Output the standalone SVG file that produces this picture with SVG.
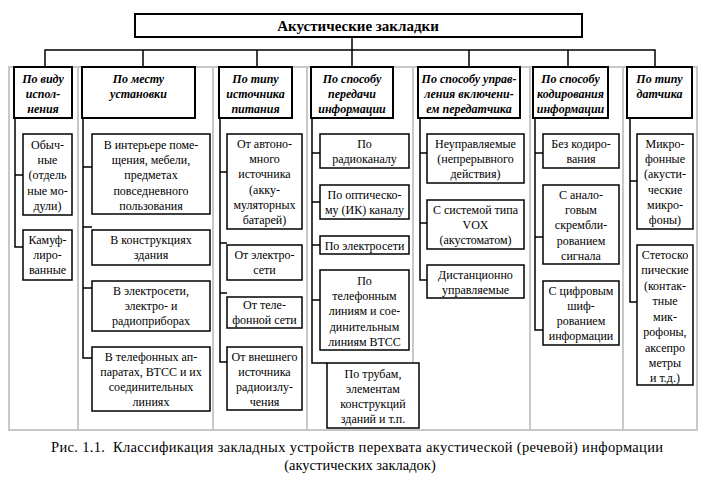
<svg xmlns="http://www.w3.org/2000/svg" width="709" height="483" viewBox="0 0 709 483">
<style>
.grid{fill:none;stroke:#c8c8c8;stroke-width:2}
.hdr{fill:#fff;stroke:#000;stroke-width:2}
.box{fill:#fff;stroke:#000;stroke-width:1.5}
.ln{fill:none;stroke:#000;stroke-width:1.5}
text{font-family:'Liberation Serif','Liberation Sans',Arial,sans-serif;fill:#000;text-anchor:middle}
.ht{font-size:12px;font-weight:bold;font-style:italic}
.bt{font-size:12px}
.tt{font-size:15px;font-weight:bold}
.cap{font-size:14.5px}
</style>
<rect width="709" height="483" fill="#fff"/>
<g id="grid">
<rect class="grid" x="9" y="67" width="688" height="363"/>
<line class="grid" x1="78" y1="67" x2="78" y2="430"/>
<line class="grid" x1="213" y1="67" x2="213" y2="430"/>
<line class="grid" x1="307" y1="67" x2="307" y2="430"/>
<line class="grid" x1="413" y1="67" x2="413" y2="430"/>
<line class="grid" x1="530" y1="67" x2="530" y2="430"/>
<line class="grid" x1="623" y1="67" x2="623" y2="430"/>
</g>
<g id="connectors">
<path class="ln" d="M352,37 V50 M45,67 V50 H655 V67 M143,50 V67 M257,50 V67 M352,50 V67 M469,50 V67 M568,50 V67"/>
<path class="ln" d="M15,118 V247 H23 M15,175 H23"/>
<path class="ln" d="M83,118 V358 H92 M83,167 H92 M83,227 H92 M83,288 H92"/>
<path class="ln" d="M220,118 V362 H227 M220,172 H227 M220,243 H227 M220,293 H227"/>
<path class="ln" d="M312,118 V363 H327 M312,153 H320 M312,202 H320 M312,245 H320 M312,300 H320"/>
<path class="ln" d="M420,118 V280 H427 M420,153 H427 M420,223 H427"/>
<path class="ln" d="M535,118 V330 H543 M535,153 H543 M535,237 H543"/>
<path class="ln" d="M630,118 V302 H637 M630,181 H637"/>
</g>
<g id="title">
<rect class="hdr" x="135" y="14" width="447" height="23"/>
<text class="tt" x="358" y="31">Акустические закладки</text>
</g>
<g id="h1"><rect class="hdr" x="14" y="67" width="58" height="51"/>
<text class="ht" x="43" y="83">По виду</text><text class="ht" x="43" y="98">испол-</text><text class="ht" x="43" y="113">нения</text></g>
<g id="h2"><rect class="hdr" x="82" y="67" width="113" height="51"/>
<text class="ht" x="138.5" y="83">По месту</text><text class="ht" x="138.5" y="98">установки</text></g>
<g id="h3"><rect class="hdr" x="219" y="67" width="73" height="51"/>
<text class="ht" x="255.5" y="83">По типу</text><text class="ht" x="255.5" y="98">источника</text><text class="ht" x="255.5" y="113">питания</text></g>
<g id="h4"><rect class="hdr" x="311" y="67" width="82" height="51"/>
<text class="ht" x="352" y="83">По способу</text><text class="ht" x="352" y="98">передачи</text><text class="ht" x="352" y="113">информации</text></g>
<g id="h5"><rect class="hdr" x="418" y="67" width="102" height="51"/>
<text class="ht" x="469" y="83">По способу управ-</text><text class="ht" x="469" y="98">ления включени-</text><text class="ht" x="469" y="113">ем передатчика</text></g>
<g id="h6"><rect class="hdr" x="533" y="67" width="75" height="51"/>
<text class="ht" x="570.5" y="83">По способу</text><text class="ht" x="570.5" y="98">кодирования</text><text class="ht" x="570.5" y="113">информации</text></g>
<g id="h7"><rect class="hdr" x="627" y="67" width="65" height="51"/>
<text class="ht" x="659.5" y="83">По типу</text><text class="ht" x="659.5" y="98">датчика</text></g>

<g id="c1b1"><rect class="box" x="23" y="134" width="49" height="81"/>
<text class="bt" x="47.5" y="149">Обыч-</text><text class="bt" x="47.5" y="164">ные</text><text class="bt" x="47.5" y="179">(отдель</text><text class="bt" x="47.5" y="195">ные мо-</text><text class="bt" x="47.5" y="210">дули)</text></g>
<g id="c1b2"><rect class="box" x="23" y="230" width="49" height="50"/>
<text class="bt" x="47.5" y="244">Камуф-</text><text class="bt" x="47.5" y="259">лиро-</text><text class="bt" x="47.5" y="274">ванные</text></g>

<g id="c2b1"><rect class="box" x="92" y="134" width="118" height="80"/>
<text class="bt" x="151" y="149">В интерьере поме-</text><text class="bt" x="151" y="164">щения, мебели,</text><text class="bt" x="151" y="179">предметах</text><text class="bt" x="151" y="195">повседневного</text><text class="bt" x="151" y="210">пользования</text></g>
<g id="c2b2"><rect class="box" x="92" y="230" width="118" height="35"/>
<text class="bt" x="151" y="244">В конструкциях</text><text class="bt" x="151" y="259">здания</text></g>
<g id="c2b3"><rect class="box" x="92" y="281" width="118" height="50"/>
<text class="bt" x="151" y="295">В электросети,</text><text class="bt" x="151" y="310">электро- и</text><text class="bt" x="151" y="325">радиоприборах</text></g>
<g id="c2b4"><rect class="box" x="92" y="347" width="118" height="64"/>
<text class="bt" x="151" y="361">В телефонных ап-</text><text class="bt" x="151" y="376">паратах, ВТСС и их</text><text class="bt" x="151" y="391">соединительных</text><text class="bt" x="151" y="406">линиях</text></g>

<g id="c3b1"><rect class="box" x="227" y="134" width="75" height="95"/>
<text class="bt" x="264.5" y="148">От автоно-</text><text class="bt" x="264.5" y="163">много</text><text class="bt" x="264.5" y="178">источника</text><text class="bt" x="264.5" y="194">(акку-</text><text class="bt" x="264.5" y="209">муляторных</text><text class="bt" x="264.5" y="224">батарей)</text></g>
<g id="c3b2"><rect class="box" x="227" y="245" width="75" height="35"/>
<text class="bt" x="264.5" y="259">От электро-</text><text class="bt" x="264.5" y="274">сети</text></g>
<g id="c3b3"><rect class="box" x="227" y="297" width="75" height="31"/>
<text class="bt" x="264.5" y="309">От теле-</text><text class="bt" x="264.5" y="324">фонной сети</text></g>
<g id="c3b4"><rect class="box" x="227" y="347" width="75" height="63"/>
<text class="bt" x="264.5" y="361">От внешнего</text><text class="bt" x="264.5" y="376">источника</text><text class="bt" x="264.5" y="391">радиоизлу-</text><text class="bt" x="264.5" y="406">чения</text></g>

<g id="c4b1"><rect class="box" x="320" y="134" width="89" height="34"/>
<text class="bt" x="364.5" y="148">По</text><text class="bt" x="364.5" y="163">радиоканалу</text></g>
<g id="c4b2"><rect class="box" x="320" y="185" width="89" height="34"/>
<text class="bt" x="364.5" y="199">По оптическо-</text><text class="bt" x="364.5" y="214">му (ИК) каналу</text></g>
<g id="c4b3"><rect class="box" x="320" y="236" width="89" height="18"/>
<text class="bt" x="364.5" y="249.5">По электросети</text></g>
<g id="c4b4"><rect class="box" x="320" y="270" width="89" height="80"/>
<text class="bt" x="364.5" y="285">По</text><text class="bt" x="364.5" y="300">телефонным</text><text class="bt" x="364.5" y="315">линиям и сое-</text><text class="bt" x="364.5" y="331">динительным</text><text class="bt" x="364.5" y="346">линиям ВТСС</text></g>
<g id="c4b5"><rect class="box" x="327" y="363" width="92" height="65"/>
<text class="bt" x="373" y="378">По трубам,</text><text class="bt" x="373" y="393">элементам</text><text class="bt" x="373" y="408">конструкций</text><text class="bt" x="373" y="423">зданий и т.п.</text></g>

<g id="c5b1"><rect class="box" x="427" y="134" width="97" height="49"/>
<text class="bt" x="475.5" y="148">Неуправляемые</text><text class="bt" x="475.5" y="163">(непрерывного</text><text class="bt" x="475.5" y="178">действия)</text></g>
<g id="c5b2"><rect class="box" x="427" y="200" width="97" height="49"/>
<text class="bt" x="475.5" y="214">С системой типа</text><text class="bt" x="475.5" y="229">VOX</text><text class="bt" x="475.5" y="244">(акустоматом)</text></g>
<g id="c5b3"><rect class="box" x="427" y="265" width="97" height="33"/>
<text class="bt" x="475.5" y="279">Дистанционно</text><text class="bt" x="475.5" y="294">управляемые</text></g>

<g id="c6b1"><rect class="box" x="543" y="134" width="76" height="34"/>
<text class="bt" x="581" y="148">Без кодиро-</text><text class="bt" x="581" y="163">вания</text></g>
<g id="c6b2"><rect class="box" x="543" y="185" width="76" height="79"/>
<text class="bt" x="581" y="199">С анало-</text><text class="bt" x="581" y="214">говым</text><text class="bt" x="581" y="229">скрембли-</text><text class="bt" x="581" y="245">рованием</text><text class="bt" x="581" y="260">сигнала</text></g>
<g id="c6b3"><rect class="box" x="543" y="281" width="76" height="64"/>
<text class="bt" x="581" y="295">С цифровым</text><text class="bt" x="581" y="310">шиф-</text><text class="bt" x="581" y="325">рованием</text><text class="bt" x="581" y="340">информации</text></g>

<g id="c7b1"><rect class="box" x="637" y="134" width="56" height="95"/>
<text class="bt" x="665" y="148">Микро-</text><text class="bt" x="665" y="163">фонные</text><text class="bt" x="665" y="178">(акусти-</text><text class="bt" x="665" y="194">ческие</text><text class="bt" x="665" y="209">микро-</text><text class="bt" x="665" y="224">фоны)</text></g>
<g id="c7b2"><rect class="box" x="637" y="245" width="56" height="140"/>
<text class="bt" x="665" y="259">Стетоско</text><text class="bt" x="665" y="274">пические</text><text class="bt" x="665" y="290">(контак-</text><text class="bt" x="665" y="305">тные</text><text class="bt" x="665" y="321">мик-</text><text class="bt" x="665" y="336">рофоны,</text><text class="bt" x="665" y="352">аксепро</text><text class="bt" x="665" y="367">метры</text><text class="bt" x="665" y="382">и т.д.)</text></g>

<g id="caption">
<text class="cap" x="357" y="452" textLength="612" lengthAdjust="spacing">Рис. 1.1.&#160; Классификация закладных устройств перехвата акустической (речевой) информации</text>
<text class="cap" x="360" y="470">(акустических закладок)</text>
</g>
</svg>
